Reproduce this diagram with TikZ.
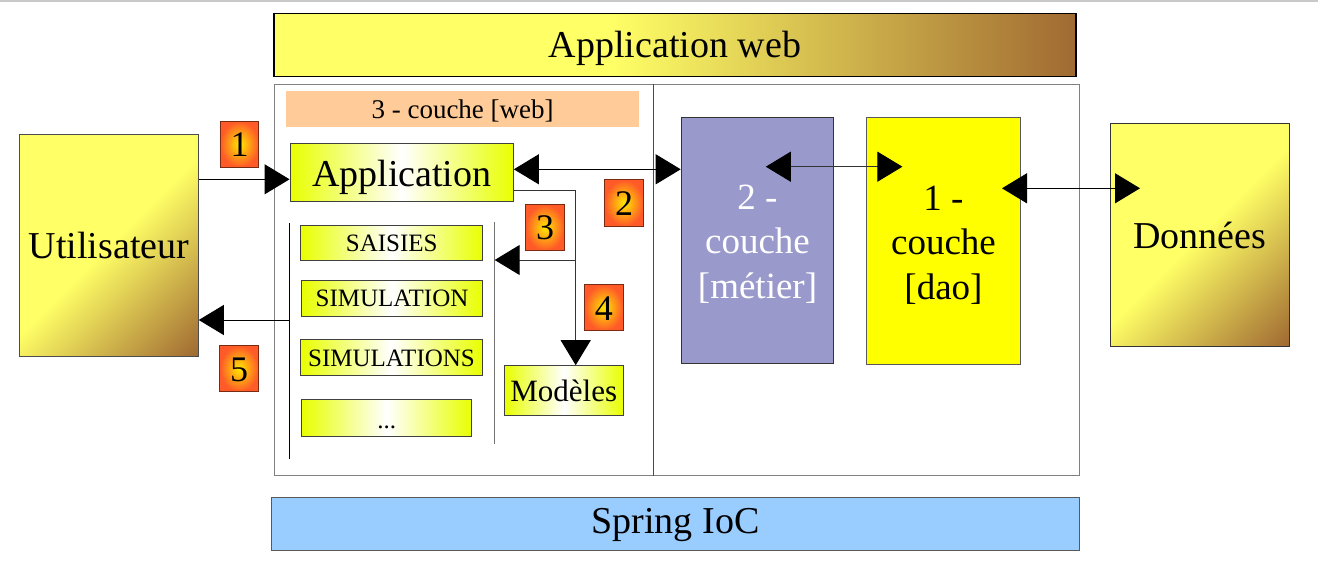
\documentclass[tikz,border=0pt]{standalone}
\usepackage{fontspec}
\IfFontExistsTF{LiberationSerif-Regular.ttf}
  {\setmainfont{LiberationSerif-Regular.ttf}[BoldFont=LiberationSerif-Bold.ttf]}
  {\setmainfont{Liberation Serif}}
\usetikzlibrary{arrows.meta}
\definecolor{yl}{HTML}{FFFF66}
\definecolor{br}{HTML}{A06A32}
\definecolor{peach}{HTML}{FFCC99}
\definecolor{lav}{HTML}{9999CC}
\definecolor{ygreen}{HTML}{E8FF00}
\definecolor{sky}{HTML}{99CCFF}
\definecolor{numin}{HTML}{FFE800}
\definecolor{numout}{HTML}{FF5A28}
\definecolor{numborder}{HTML}{7A2A10}
\definecolor{topline}{HTML}{C8C8C8}
\definecolor{daoyellow}{HTML}{FFFF00}
\pgfdeclarehorizontalshading{webshade}{100bp}{color(0bp)=(yl); color(46bp)=(yl); color(75bp)=(br); color(100bp)=(br)}
\pgfdeclarehorizontalshading{diagshade}{100bp}{color(0bp)=(yl); color(50bp)=(yl); color(85bp)=(br); color(100bp)=(br)}
\tikzset{
  box/.style={rectangle, inner sep=0pt, line width=1pt},
  numbox/.style={box, draw=numborder, inner color=numin, outer color=numout,
    minimum width=38.5pt, minimum height=46pt, font=\fontsize{36}{43}\selectfont,
    text height=25pt, text depth=0pt},
  viewbox/.style={box, draw=black!75, left color=ygreen, right color=ygreen, middle color=white},
  conn/.style={line width=1pt, draw=black, -{Triangle[length=25pt,width=30pt,color=black]}},
  biconn/.style={line width=1pt, draw=black, {Triangle[length=25pt,width=30pt,color=black]}-{Triangle[length=25pt,width=30pt,color=black]}},
  plain/.style={line width=1pt, draw=black!80},
}
\begin{document}
\begin{tikzpicture}[x=1pt,y=-1pt]
\useasboundingbox (0,0) rectangle (1318,567);
\draw[topline, line width=1.5pt] (0,1.2) -- (1318,1.2);

% top and bottom bars
\node[box, draw=black, line width=1.5pt, shading=webshade, minimum width=802pt, minimum height=63pt,
  font=\fontsize{38}{45}\selectfont, text height=26pt, text depth=0pt] (web) at (675,44.8) {Application web};
\node[box, draw=black!65, fill=sky, minimum width=808pt, minimum height=53.3pt,
  font=\fontsize{38}{45}\selectfont, text height=17.8pt, text depth=0pt] (spring) at (675.5,524.3) {Spring IoC};

% container
\node[box, draw=black!50, line width=1.5pt, minimum width=805.2pt, minimum height=391.4pt] (cont) at (676.9,280) {};
\coordinate (dv) at (653.3,280);
\draw[line width=1pt, black!70] (cont.north -| dv) -- (cont.south -| dv);

\node[box, fill=peach, minimum width=353pt, minimum height=36pt,
  font=\fontsize{27}{32}\selectfont, text height=20.6pt, text depth=0pt] (weblayer) at (462.6,108.7) {3 - couche [web]};

% outer actors
\node[box, draw=black!70, shading=diagshade, shading angle=-45, minimum width=178.6pt, minimum height=222.4pt,
  font=\fontsize{38}{45}\selectfont, text height=25.6pt, text depth=0pt] (user) at (109,245.5) {Utilisateur};
\node[box, draw=black!80, shading=diagshade, shading angle=-45, minimum width=178.5pt, minimum height=222.7pt,
  font=\fontsize{38}{45}\selectfont, text height=25.4pt, text depth=0pt] (data) at (1199.8,235.3) {Données};

% web layer content
\node[viewbox, minimum width=223.3pt, minimum height=57.7pt,
  font=\fontsize{38}{45}\selectfont, text height=26.4pt, text depth=0pt] (app) at (401.7,172.8) {Application};
\node[viewbox, minimum width=182.3pt, minimum height=35.3pt,
  font=\fontsize{25}{30}\selectfont, text height=16.6pt, text depth=0pt] (saisies) at (391.8,243.3) {SAISIES};
\node[viewbox, minimum width=180.6pt, minimum height=35.7pt,
  font=\fontsize{25}{30}\selectfont, text height=17pt, text depth=0pt] (simu) at (392,298.2) {SIMULATION};
\node[viewbox, minimum width=181.6pt, minimum height=35.7pt,
  font=\fontsize{25}{30}\selectfont, text height=16.4pt, text depth=0pt] (simus) at (391.5,357.8) {SIMULATIONS};
\node[viewbox, minimum width=170pt, minimum height=36.7pt,
  font=\fontsize{25}{30}\selectfont, text height=21.2pt, text depth=0pt] (more) at (386.7,417.7) {...};
\node[viewbox, minimum width=119pt, minimum height=50pt,
  font=\fontsize{31}{37}\selectfont, text height=20.6pt, text depth=0pt] (models) at (563.8,390.7) {Modèles};

% layers 2 and 1
\node[box, draw=black!80, fill=lav, text=white, align=center, minimum width=152.6pt, minimum height=245.6pt,
  font=\fontsize{37}{44.5}\selectfont] (metier) at (757.5,240.5) {\rule{0pt}{31pt}2 -\\couche\\{[}métier{]}};
\node[box, draw=black!65, fill=daoyellow, align=center, minimum width=153.5pt, minimum height=246pt,
  font=\fontsize{37}{44.5}\selectfont] (dao) at (943.5,241) {\rule{0pt}{32pt}1 -\\couche\\{[}dao{]}};

% step numbers
\node[numbox] (n1) at (239.5,144.2) {1};
\node[numbox] (n2) at (624,203) {2};
\node[numbox] (n3) at (545,227.5) {3};
\node[numbox] (n4) at (603.8,307.8) {4};
\node[numbox] (n5) at (239.2,368.7) {5};

% list brackets
\coordinate (lltop) at (289.3,223);
\coordinate (llbot) at (289.3,459.3);
\coordinate (rltop) at (494.7,222);
\coordinate (rlbot) at (494.7,444);
\draw[line width=1pt, black] (lltop) -- (llbot);
\draw[line width=1pt, black!55] (rltop) -- (rlbot);

% connectors
\coordinate (c1) at (0,179.3);
\draw[conn] (user.east |- c1) -- (app.west |- c1);
\coordinate (c2) at (0,169.3);
\draw[biconn] (app.east |- c2) -- (metier.west |- c2);
\coordinate (j1) at (575.7,190.7);
\coordinate (j2) at (575.7,260);
\draw[plain] (app.east |- j1) -- (j1) -- (j2);
\draw[conn, draw=black!80] (j2) -- (models.north -| j2);
\draw[conn, draw=black!80] (j2) -- (rltop |- j2);
\coordinate (c5) at (0,320);
\draw[conn] (lltop |- c5) -- (user.east |- c5);
\coordinate (m1) at (765.8,166.7);
\coordinate (d1) at (902.4,166.7);
\draw[biconn, draw=black!80] (m1) -- (d1);
\coordinate (d2) at (1002,188.3);
\coordinate (e2) at (1140,188.3);
\draw[biconn] (d2) -- (e2);
\end{tikzpicture}
\end{document}
